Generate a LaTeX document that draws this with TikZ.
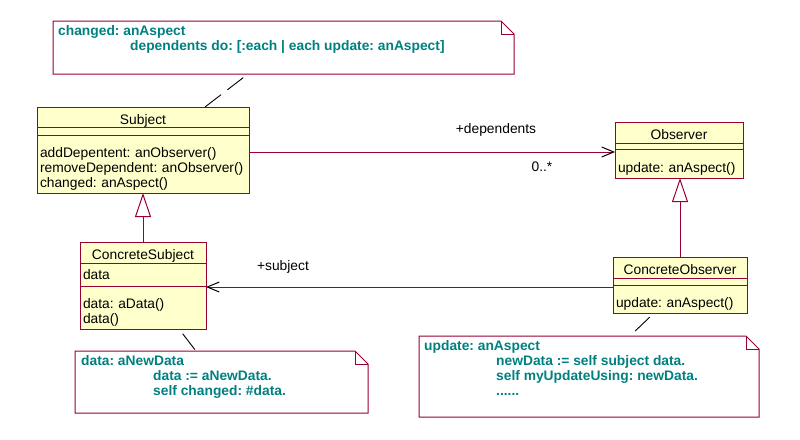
\documentclass[tikz,border=0pt]{standalone}
\usepackage{fontspec}
\setmainfont{Liberation Sans}
\usetikzlibrary{arrows.meta,calc,positioning}
\definecolor{rose}{RGB}{153,0,51}
\definecolor{roseyellow}{RGB}{255,255,204}
\definecolor{noteteal}{RGB}{0,128,128}
\newcommand{\umlfont}{\fontsize{13.8}{15}\selectfont\frenchspacing}
\newcommand{\codeind}{\hspace*{72pt}}
\tikzstyle{classname} = [rectangle, draw=rose, fill=roseyellow, line width=1pt, outer sep=0pt, inner xsep=3pt, inner ysep=0pt, minimum height=21pt, text height=17pt, text depth=3pt, align=center, font=\umlfont]
\tikzstyle{classpart} = [rectangle, draw=rose, fill=roseyellow, line width=1pt, outer sep=0pt, inner xsep=3pt, inner ysep=0pt, align=left, font=\umlfont]
\tikzstyle{classgap} = [classpart, text height=0pt, text depth=0pt]
\tikzstyle{classops} = [classpart, text height=20pt]
\tikzstyle{notebox} = [rectangle, inner sep=0pt, outer sep=0pt, anchor=north west]
\tikzstyle{notetext} = [anchor=north west, inner sep=0pt, align=left, text=noteteal, font=\umlfont\bfseries]
\tikzstyle{noteline} = [draw=rose, line width=1pt]
\tikzstyle{generalize} = [draw=rose, line width=1pt, -{Triangle[open, length=24pt, width=16pt]}]
\tikzstyle{assoc} = [draw=rose, line width=1pt, -{Straight Barb[color=black, length=12pt, width=10pt]}]
\tikzstyle{anchorline} = [black, line width=0.9pt, dash pattern=on 20pt off 8pt, dash phase=22pt]
\tikzstyle{rolelabel} = [font=\umlfont, inner sep=0pt]

\begin{document}
\begin{tikzpicture}[x=1pt, y=-1pt]
\useasboundingbox (0,0) rectangle (800,439);

\node (subj-name) [classname, text width=206pt, minimum height=20pt, anchor=north west] at (37,107) {Subject};
\node (subj-attr) [classgap, text width=206pt, minimum height=8pt, below=0pt of subj-name] {};
\node (subj-ops) [classops, text width=206pt, minimum height=58pt, below=0pt of subj-attr] {addDepentent: anObserver()\\removeDependent: anObserver()\\changed: anAspect()};

\node (obs-name) [classname, text width=122pt, anchor=north west] at (615,122) {Observer};
\node (obs-attr) [classgap, text width=122pt, minimum height=6pt, below=0pt of obs-name] {};
\node (obs-ops) [classops, text width=122pt, minimum height=29pt, below=0pt of obs-attr] {update: anAspect()};

\node (cs-name) [classname, text width=120pt, anchor=north west] at (80,242) {ConcreteSubject};
\node (cs-attr) [classpart, text width=120pt, minimum height=23pt, below=0pt of cs-name] {data};
\node (cs-ops) [classops, text width=120pt, minimum height=43pt, below=0pt of cs-attr] {data: aData()\\data()};

\node (co-name) [classname, text width=128pt, anchor=north west] at (613,257) {ConcreteObserver};
\node (co-attr) [classgap, text width=128pt, minimum height=7pt, below=0pt of co-name] {};
\node (co-ops) [classops, text width=128pt, minimum height=28pt, below=0pt of co-attr] {update: anAspect()};

\node (notechg) [notebox, minimum width=461pt, minimum height=53pt] at (53,21) {};
\node (notedata) [notebox, minimum width=293pt, minimum height=62pt] at (75,351) {};
\node (noteupd) [notebox, minimum width=340pt, minimum height=81pt] at (419,336) {};
\foreach \n in {notechg, notedata, noteupd} {
  \draw[noteline] (\n.north west) -- ($(\n.north east)+(-13,0)$) -- ($(\n.north east)+(0,13)$) -- (\n.south east) -- (\n.south west) -- cycle;
  \draw[noteline] ($(\n.north east)+(-13,0)$) |- ($(\n.north east)+(0,13)$);
}
\node (notechg-txt) [notetext] at ($(notechg.north west)+(5,4)$) {changed: anAspect\\\codeind dependents do: [:each | each update: anAspect]};
\node (notedata-txt) [notetext] at ($(notedata.north west)+(6,4)$) {data: aNewData\\\codeind data := aNewData.\\\codeind self changed: \#data.};
\node (noteupd-txt) [notetext] at ($(noteupd.north west)+(5,4)$) {update: anAspect\\\codeind newData := self subject data.\\\codeind self myUpdateUsing: newData.\\\codeind ......};

\coordinate (dep-end) at ($(obs-ops.north west)+(0,3)$);
\coordinate (subj-start) at ($(co-ops.north west)+(0,2)$);
\draw [assoc] (dep-end -| subj-ops.east) -- (dep-end);
\draw [assoc] (subj-start) -- (subj-start -| cs-ops.east);
\draw [generalize] (cs-name.north) -- (cs-name.north |- subj-ops.south);
\draw [generalize] (co-name.north) -- (co-name.north |- obs-ops.south);

\node (dep-role) [rolelabel] at (496,130) {+dependents};
\node (dep-mult) [rolelabel] at (542,167) {0..*};
\node (subj-role) [rolelabel] at (283,267) {+subject};

\draw [anchorline] ($(notechg.south west)+(195,0)$) -- ($(subj-name.north west)+(168,0)$);
\draw [anchorline] ($(cs-ops.south west)+(99,0)$) -- ($(notedata.north west)+(121,0)$);
\draw [anchorline] ($(co-ops.south west)+(41,0)$) -- ($(noteupd.north west)+(211,0)$);
\end{tikzpicture}
\end{document}
